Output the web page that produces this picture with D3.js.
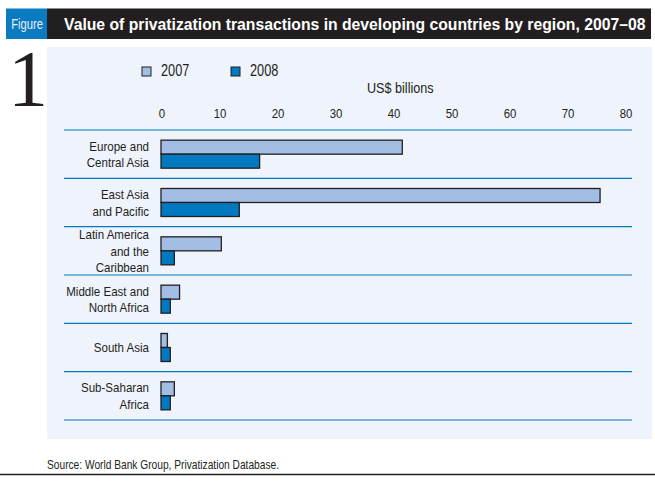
<!DOCTYPE html>
<html>
<head>
<meta charset="utf-8">
<script src="https://cdn.jsdelivr.net/npm/d3@7"></script>
<style>
  body { margin: 0; background: #fff; }
  text { font-family: "Liberation Sans", Arial, sans-serif; fill: #231f20; }
</style>
</head>
<body>
<svg width="655" height="489"></svg>
<script>
var regions = [
  ["Europe and", "Central Asia"],
  ["East Asia", "and Pacific"],
  ["Latin America", "and the", "Caribbean"],
  ["Middle East and", "North Africa"],
  ["South Asia"],
  ["Sub-Saharan", "Africa"]
];
var regionNames = regions.map(d => d.join(" "));
var years = ["2007", "2008"];
var values2007 = [41.6, 75.7, 10.4, 3.2, 1.1, 2.3];
var values2008 = [17.0, 13.5, 2.3, 1.6, 1.6, 1.6];
var ticks = [0, 10, 20, 30, 40, 50, 60, 70, 80];

var colors = { "2007": "#a2bee4", "2008": "#0079c1" };

var svg = d3.select("svg");

// condensed look: squeeze Liberation Sans horizontally
function ctext(parent, x, y, size, sx) {
  return parent.append("text")
      .attr("transform", "translate(" + x + "," + y + ") scale(" + sx + ",1)")
      .style("font-size", size + "px");
}

// title bar
svg.append("rect").attr("x", 6).attr("y", 8.5).attr("width", 41).attr("height", 30.5).attr("fill", "#0a7bc1");
svg.append("rect").attr("x", 47).attr("y", 8.5).attr("width", 604).attr("height", 30.5).attr("fill", "#231f20");
ctext(svg, 27, 29.3, 14, 0.8).attr("text-anchor", "middle").style("fill", "#e8eef8").text("Figure");

var title = ctext(svg, 64, 30, 16.3, 1).style("fill", "#fff").style("font-weight", "bold")
    .text("Value of privatization transactions in developing countries by region, 2007–08");
var tw = title.node().getComputedTextLength();
title.attr("transform", "translate(64,30) scale(" + (581 / tw) + ",1)");

// panel
svg.append("rect").attr("x", 47).attr("y", 47).attr("width", 605).attr("height", 392).attr("fill", "#eff3fb");

// big figure number
svg.append("text").attr("x", 8).attr("y", 106)
    .style("font-family", "'Liberation Serif', 'DejaVu Serif', serif").style("font-size", "80px")
    .text("1");

var x = d3.scaleLinear().domain([0, 80]).range([162, 626]);
var y = d3.scaleBand().domain(regionNames).range([130, 420]);

// legend
var legend = svg.append("g").selectAll("g").data(years).enter().append("g")
    .attr("transform", (d, i) => "translate(" + (142 + i * 89) + ",67)");
legend.append("rect").attr("width", 9).attr("height", 9)
    .attr("fill", d => colors[d]).attr("stroke", "#231f20").attr("stroke-width", 1);
legend.each(function(d) {
  ctext(d3.select(this), 19, 9, 15.9, 0.8).text(d);
});

ctext(svg, 367, 93.3, 14.5, 0.87).text("US$ billions");

// axis tick labels
var tg = svg.append("g");
ticks.forEach(function(t) {
  ctext(tg, x(t), 117.7, 13.1, 0.87).attr("text-anchor", "middle").text(t);
});

// separator lines
var lines = regionNames.map(d => y(d)).concat([y.range()[1]]);
svg.append("g").selectAll("line").data(lines).enter().append("line")
    .attr("x1", 64).attr("x2", 632).attr("y1", d => d).attr("y2", d => d)
    .attr("stroke", "#0079c1").attr("stroke-width", 1.2);

// bars
var barH = 14;
var groups = svg.append("g").selectAll("g").data(regionNames).enter().append("g")
    .attr("transform", d => "translate(0," + (y(d) + y.bandwidth() / 2) + ")");

groups.append("rect")
    .attr("x", x(0) - 1).attr("y", -barH)
    .attr("width", (d, i) => x(values2007[i]) - x(0))
    .attr("height", barH)
    .attr("fill", colors["2007"]).attr("stroke", "#231f20").attr("stroke-width", 1.3);

groups.append("rect")
    .attr("x", x(0) - 1).attr("y", 0)
    .attr("width", (d, i) => x(values2008[i]) - x(0))
    .attr("height", barH)
    .attr("fill", colors["2008"]).attr("stroke", "#231f20").attr("stroke-width", 1.3);

// region labels
groups.each(function(d, i) {
  var ls = regions[i];
  var lh = 16.7;
  var t = ctext(d3.select(this), 149, 0, 13.2, 0.875).attr("text-anchor", "end");
  ls.forEach(function(s, j) {
    t.append("tspan").attr("x", 0)
      .attr("y", (j - (ls.length - 1) / 2) * lh + 4.8)
      .text(s);
  });
});

// source
ctext(svg, 47, 469.3, 12, 0.85).text("Source: World Bank Group, Privatization Database.");
svg.append("line").attr("x1", 0).attr("x2", 655).attr("y1", 474.5).attr("y2", 474.5)
    .attr("stroke", "#231f20").attr("stroke-width", 1.5);
</script>
</body>
</html>
